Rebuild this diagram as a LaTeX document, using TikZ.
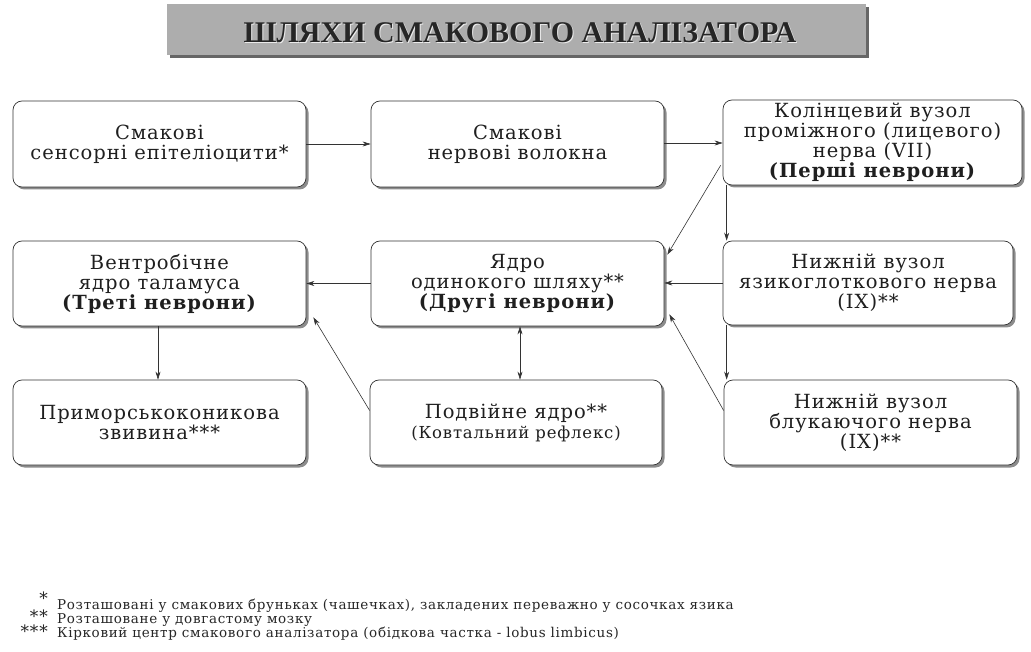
\documentclass[tikz,border=0pt]{standalone}
\usepackage{fontspec}
\setmainfont[LetterSpace=5]{DejaVu Serif}
\newfontfamily\fnfont[LetterSpace=5]{DejaVu Serif}
\newfontfamily\titlefont{Liberation Serif}
\usetikzlibrary{arrows.meta,shadows}
\tikzset{
  box/.style={draw=black!80, line width=0.7pt, rounded corners=9pt, fill=white,
    drop shadow={shadow xshift=2.5pt, shadow yshift=-2.5pt, fill=black!45, opacity=1},
    align=center, inner sep=0pt, text=black!88,
    font={\fontsize{19.5}{20}\selectfont}},
  arr/.style={draw=black!80, line width=0.6pt, -{Stealth[length=8pt,width=5pt]}},
  darr/.style={draw=black!80, line width=0.6pt, {Stealth[length=8pt,width=5pt]}-{Stealth[length=8pt,width=5pt]}},
  fn/.style={anchor=base west, inner sep=0pt, font={\fnfont\fontsize{13.5}{14}\selectfont}, text=black!85},
  fs/.style={anchor=base east, inner sep=0pt, font={\fnfont\fontsize{17}{14}\selectfont}, text=black!85}
}
\begin{document}
\begin{tikzpicture}[x=1pt,y=-1pt]
\useasboundingbox (0,0) rectangle (1031,652);
% banner
\fill[black!60] (170,7) rectangle (869,58);
\node[fill=black!32, minimum width=699pt, minimum height=51pt, inner sep=0pt, anchor=north west] (banner) at (167,4) {};
\node[font={\titlefont\bfseries\fontsize{30}{32}\selectfont}, text=white!92!black, inner sep=0pt] (titleshadow) at (521,34) {ШЛЯХИ СМАКОВОГО АНАЛІЗАТОРА};
\node[font={\titlefont\bfseries\fontsize{30}{32}\selectfont}, text=black!85, inner sep=0pt] (title) at (520,33) {ШЛЯХИ СМАКОВОГО АНАЛІЗАТОРА};

% boxes
\node[box, minimum width=293pt, minimum height=86pt] (A) at (159.5,144) {Смакові\\сенсорні епітеліоцити*};
\node[box, minimum width=293pt, minimum height=86pt] (B) at (517.5,144) {Смакові\\нервові волокна};
\node[box, minimum width=299pt, minimum height=85pt] (C) at (872.5,142.5) {Колінцевий вузол\\проміжного (лицевого)\\нерва (VII)\\\textbf{(Перші неврони)}};
\node[box, minimum width=293pt, minimum height=85pt] (D) at (159.5,283.5) {Вентробічне\\ядро таламуса\\\textbf{(Треті неврони)}};
\node[box, minimum width=293pt, minimum height=85pt] (E) at (517.5,283.5) {Ядро\\одинокого шляху**\\\textbf{(Другі неврони)}};
\node[box, minimum width=290pt, minimum height=84pt] (F) at (868,283) {Нижній вузол\\язикоглоткового нерва\\(IX)**};
\node[box, minimum width=293pt, minimum height=85pt] (G) at (159.5,422.5) {Приморськоконикова\\звивина***};
\node[box, minimum width=292pt, minimum height=85pt] (H) at (516,422.5) {Подвійне ядро**\\{\fontsize{16.5}{21}\selectfont(Ковтальний рефлекс)}};
\node[box, minimum width=293pt, minimum height=85pt] (I) at (870.5,422.5) {Нижній вузол\\блукаючого нерва\\(IX)**};

% connectors
\draw[arr] (A.east) -- (B.west);
\draw[arr] ([yshift=1pt]B.east) -- ([yshift=1pt]B.east -| C.west);
\draw[arr] ([xshift=-2pt,yshift=20pt]C.south west) -- ([xshift=3pt,yshift=-14pt]E.north east);
\draw[arr] ([xshift=4pt]C.south west) -- ([xshift=4pt]F.north west);
\draw[arr] ([xshift=4pt]F.south west) -- ([xshift=3pt]I.north west);
\draw[arr] (F.west) -- (F.west -| E.east);
\draw[arr] ([yshift=12pt]I.west) -- ([xshift=5pt,yshift=12pt]E.south east);
\draw[arr] (E.west) -- (D.east);
\draw[arr] ([yshift=12pt]H.west) -- ([xshift=7pt,yshift=9pt]D.south east);
\draw[darr] ([xshift=2.5pt]E.south) -- ([xshift=4pt]H.north);
\draw[arr] ([xshift=-1.5pt]D.south) -- ([xshift=-1.5pt]G.north);

% footnotes
\node[fs] (s1) at (48,604) {*};
\node[fs] (s2) at (48,622) {**};
\node[fs] (s3) at (48,637) {***};
\node[fn] (f1) at (57,609) {Розташовані у смакових бруньках (чашечках), закладених переважно у сосочках язика};
\node[fn] (f2) at (57,623) {Розташоване у довгастому мозку};
\node[fn] (f3) at (57,637) {Кірковий центр смакового аналізатора (обідкова частка - lobus limbicus)};
\end{tikzpicture}
\end{document}
